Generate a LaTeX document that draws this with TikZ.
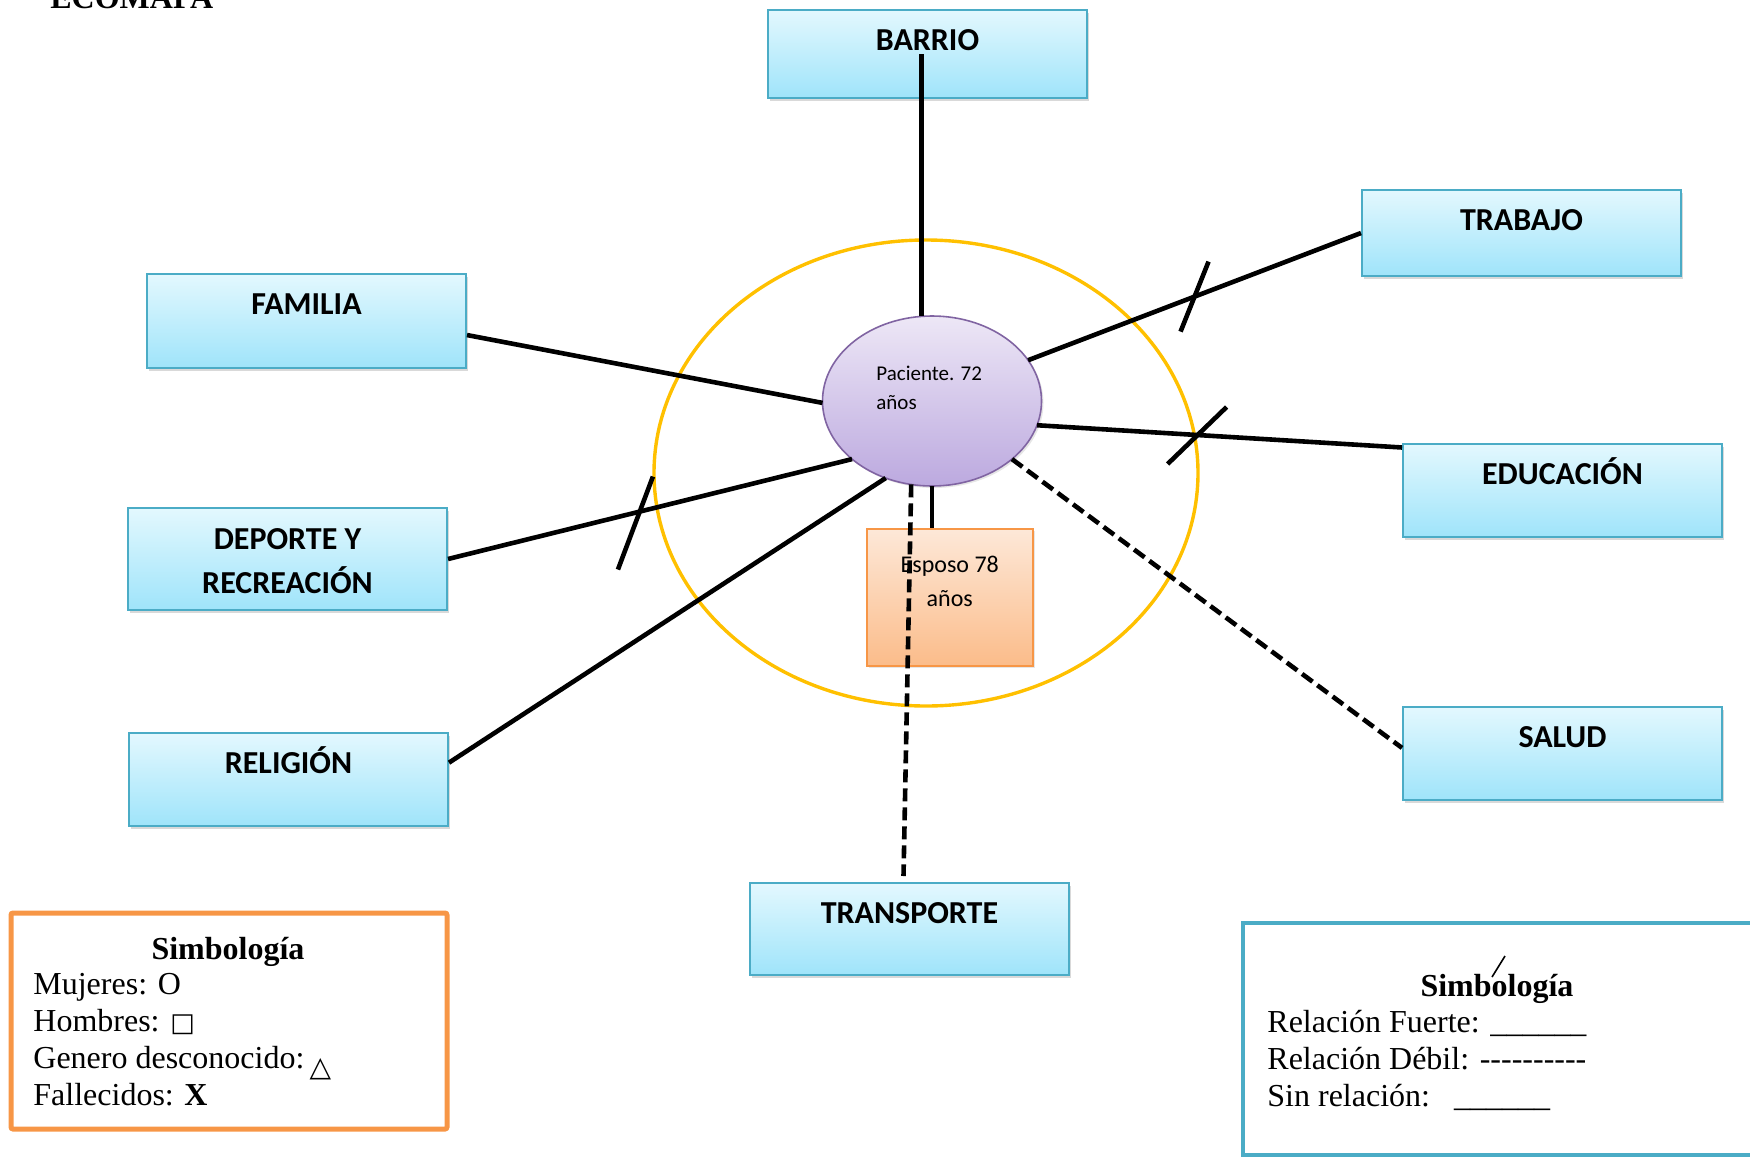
\documentclass[tikz,border=0pt]{standalone}
\usepackage{fontspec}
\setmainfont{Liberation Serif}
\newfontfamily\calibri{Carlito}
\newfontfamily\symfont{DejaVu Sans}
\usepackage{tikz}
\usetikzlibrary{shapes.geometric, shadows, calc}
\usepackage{xcolor}
\definecolor{boxblue}{HTML}{4BACC6}
\definecolor{boxtop}{HTML}{E3F8FE}
\definecolor{boxbot}{HTML}{9FE4FA}
\definecolor{lilac}{HTML}{8064A2}
\definecolor{liltop}{HTML}{EDE7F6}
\definecolor{lilbot}{HTML}{BCA9DF}
\definecolor{peach}{HTML}{F79646}
\definecolor{peachtop}{HTML}{FDE8D8}
\definecolor{peachbot}{HTML}{FBBC8A}
\definecolor{ringyellow}{HTML}{FFC000}

\begin{document}
\begin{tikzpicture}[x=0.5pt, y=-0.5pt,
    sysbox/.style={draw=boxblue, line width=1pt, top color=boxtop, bottom color=boxbot,
      drop shadow={opacity=0.3, shadow xshift=1pt, shadow yshift=-1.5pt},
      minimum width=159.5pt, inner ysep=0pt, text height=20pt, text depth=26.5pt,
      anchor=north west, font=\calibri\fontsize{16}{22}\selectfont\bfseries},
    link/.style={line width=2.3pt},
    weak/.style={line width=2.3pt, dash pattern=on 6.5pt off 3pt},
    legend/.style={font=\fontsize{16}{18.5}\selectfont, anchor=base west, inner xsep=0pt}]
  \useasboundingbox (0,0) rectangle (1750,1157);
  \node[font=\bfseries\fontsize{16}{18}\selectfont, anchor=base west, inner sep=0pt] (title) at (50,8) {ECOMAPA};
  % household ring
  \draw[ringyellow, line width=1.7pt] (926,473) ellipse [x radius=272, y radius=233];
  % systems around the patient
  \node[sysbox, text depth=24pt] (barrio) at (767,9) {BARRIO};
  \node[sysbox, text depth=23pt] (trabajo) at (1361,189) {TRABAJO};
  \node[sysbox, text depth=27pt] (familia) at (146,273) {FAMILIA};
  \node[sysbox, align=center, text height=42.5pt, text depth=8.5pt] (deporte) at (127,507) {DEPORTE Y\\RECREACIÓN};
  \node[sysbox] (educacion) at (1402,443) {EDUCACIÓN};
  \node[sysbox] (religion) at (128,732) {RELIGIÓN};
  \node[sysbox] (salud) at (1402,706) {SALUD};
  \node[sysbox, text depth=26pt] (transporte) at (749,882) {TRANSPORTE};
  % patient and spouse
  \node[ellipse, draw=lilac, line width=0.8pt, top color=liltop, bottom color=lilbot,
    drop shadow={opacity=0.2, shadow xshift=1pt, shadow yshift=-1pt},
    minimum width=109.5pt, minimum height=85pt, inner sep=0pt, outer sep=0pt] (pac) at (932,401) {};
  \node[font=\calibri\fontsize{10.5}{14.5}\selectfont, align=left, anchor=base west, inner xsep=0pt] (pactxt) at (876,409) {Paciente. 72\\años};
  \node[draw=peach, line width=0.8pt, top color=peachtop, bottom color=peachbot,
    drop shadow={opacity=0.2, shadow xshift=1pt, shadow yshift=-1pt},
    minimum width=83pt, inner ysep=0pt, text height=39pt, text depth=29.5pt, align=center,
    anchor=north west, font=\calibri\fontsize{12}{17}\selectfont] (esposo) at (866,528) {Esposo 78\\años};
  % relations
  \draw[link] (pac.97) -- (pac.97 |- barrio.center);
  \draw[link] (pac.23) -- (trabajo.west) coordinate[pos=0.5] (trx);
  \draw[link] (trx) ++(14,-35) -- ++(-28,70);
  \draw[link] (pac.181) -- (familia.-5);
  \draw[link] (pac.216) -- (deporte.east) coordinate[pos=0.525] (dpx);
  \draw[link] (dpx) ++(13,-35) -- ++(-35,93);
  \draw[link] (pac.-13) -- (educacion.165) coordinate[pos=0.44] (edx);
  \draw[link] (edx) ++(29,-28) -- ++(-59,57);
  \draw[link] (pac.239) -- (religion.6);
  \draw[weak] (pac.-36) -- (salud.178);
  \draw[weak] (pac.256) -- ([xshift=-3pt, yshift=3pt]transporte.north);
  \draw[link] (pac.south) -- (pac.south |- esposo.north);
  % legend: persons
  \draw[peach, line width=2.5pt, rounded corners=1pt] (11,913) rectangle (447,1129);
  \node[font=\bfseries\fontsize{16}{18}\selectfont, anchor=base] (simb1) at (228,959) {Simbología};
  \node[legend] (muj) at (33,994) {Mujeres: O};
  \node[legend] (hom) at (33,1031) {Hombres: {\symfont\fontsize{13}{13}\selectfont □}};
  \node[legend] (gen) at (33,1068) {Genero desconocido:\,\raisebox{-4pt}{\symfont\fontsize{14}{14}\selectfont △}};
  \node[legend] (fal) at (33,1105) {Fallecidos: \textbf{X}};
  % legend: relations
  \draw[boxblue, line width=2.2pt] (1243,923) rectangle (1790,1155);
  \node[font=\bfseries\fontsize{16}{18}\selectfont, anchor=base] (simb2) at (1497,996) {Simbología};
  \draw[line width=0.8pt] (1505,956) -- (1492,977);
  \node[legend] (fuerte) at (1267,1032) {Relación Fuerte: \_\_\_\_\_\_};
  \node[legend] (debil) at (1267,1069) {Relación Débil: -{}-{}-{}-{}-{}-{}-{}-{}-{}-};
  \node[legend] (sinrel) at (1267,1106) {Sin relación:\ \ \ \_\_\_\_\_\_};
\end{tikzpicture}
\end{document}
